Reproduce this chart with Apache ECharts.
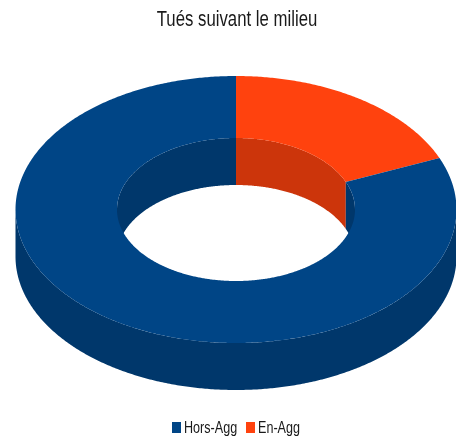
<!DOCTYPE html>
<html>
<head>
<meta charset="utf-8">
<style>html,body{margin:0;padding:0;background:#fff}#c{width:456px;height:439px}</style>
<script src="https://cdn.jsdelivr.net/npm/echarts@6/dist/echarts.min.js"></script>
</head>
<body>
<div id="c"></div>
<script>
const titleText = 'Tués suivant le milieu';
const categories = ['En-Agg', 'Hors-Agg'];
const values = [18.7, 81.3];
const legendOrder = ['Hors-Agg', 'En-Agg'];
const topColors = ['#ff420e', '#004586'];
const wallColors = ['#cc350b', '#00376b'];

const total = values.reduce((a, b) => a + b, 0);
const FONT = '"Liberation Sans",sans-serif';
const INK = '#1a1a1a';

// projection of the tilted ring onto the page
const CX = 236, CY = 209.5, ORX = 220.5, ORY = 133.5, IRX = 119, IRY = 71.5, DEPTH = 47;

function pt(rx, ry, deg, dy) {
  const a = deg * Math.PI / 180;
  return [CX + rx * Math.sin(a), CY - ry * Math.cos(a) + (dy || 0)];
}
function arc(rx, ry, a0, a1, dy) {
  const n = Math.max(2, Math.ceil(Math.abs(a1 - a0) * 2));
  const out = [];
  for (let i = 0; i <= n; i++) out.push(pt(rx, ry, a0 + (a1 - a0) * i / n, dy));
  return out;
}
function poly(points, color, z2) {
  return { type: 'polygon', shape: { points: points }, z2: z2,
    style: { fill: color, stroke: null } };
}
function wall(rx, ry, a0, a1, color) {
  return poly(arc(rx, ry, a0, a1, 0).concat(arc(rx, ry, a1, a0, DEPTH)), color, 1);
}
function clip(a0, a1, lo, hi) {
  const s = Math.max(a0, lo), e = Math.min(a1, hi);
  return e > s ? [s, e] : null;
}

function renderSlice(params, api) {
  const start = api.value(0) / total * 360;
  const end = start + api.value(1) / total * 360;
  const idx = params.seriesIndex;
  const children = [];
  [[-90, 90], [270, 450]].forEach(r => {
    const c = clip(start, end, r[0], r[1]);
    if (c) children.push(wall(IRX, IRY, c[0], c[1], wallColors[idx]));
  });
  const o = clip(start, end, 90, 270);
  if (o) children.push(wall(ORX, ORY, o[0], o[1], wallColors[idx]));
  children.push(poly(arc(ORX, ORY, start, end, 0).concat(arc(IRX, IRY, end, start, 0)), topColors[idx], 2));
  return { type: 'group', children: children };
}

let cum = 0;
const series = categories.map((name, i) => {
  const s = {
    type: 'custom', name: name, coordinateSystem: 'none', silent: true,
    animation: false, clip: false, renderItem: renderSlice,
    itemStyle: { color: topColors[i] },
    data: [[cum, values[i]]]
  };
  cum += values[i];
  return s;
});

// condensed text: the reference face is a narrow sans, so the regular face is squeezed
function squeezed(text, x, y, size, scaleX, align) {
  return { type: 'text', x: x, y: y, scaleX: scaleX, silent: true, z: 10,
    style: { text: text, fontFamily: FONT, fontSize: size, fill: INK, align: align, verticalAlign: 'middle' } };
}
const legendX = [172, 246];
const legendEls = [];
legendOrder.forEach((name, i) => {
  const color = topColors[categories.indexOf(name)];
  legendEls.push({ type: 'rect', shape: { x: legendX[i], y: 422, width: 9, height: 11 },
    style: { fill: color }, silent: true, z: 10 });
  legendEls.push(squeezed(name, legendX[i] + 12, 428, 17, 0.74, 'left'));
});

const chart = echarts.init(document.getElementById('c'), null, { renderer: 'canvas' });
chart.setOption({
  animation: false,
  backgroundColor: '#ffffff',
  graphic: { elements: [squeezed(titleText, 237, 20, 22, 0.762, 'center')].concat(legendEls) },
  series: series
});
</script>
</body>
</html>
